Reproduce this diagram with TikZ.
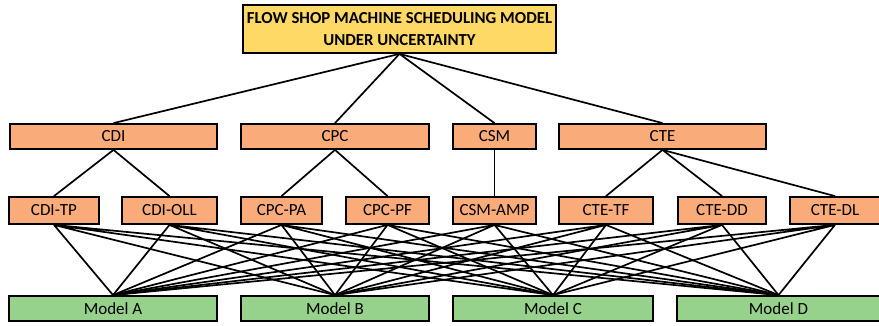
\documentclass[tikz,border=0pt]{standalone}
\usepackage{fontspec}
\setmainfont{Carlito}
\usepackage{tikz}
\usetikzlibrary{positioning}

\definecolor{titlefill}{RGB}{255,217,102}
\definecolor{critfill}{RGB}{249,171,122}
\definecolor{modelfill}{RGB}{150,210,140}

\begin{document}
\begin{tikzpicture}
  [x=1pt,y=-1pt,
   box/.style={draw=black,line width=1.8pt,inner sep=0pt,font=\fontsize{17}{20}\selectfont},
   head/.style={box,fill=titlefill,minimum width=313pt,minimum height=48pt,align=center,font=\bfseries\fontsize{16.8}{22.5}\selectfont},
   crit/.style={box,fill=critfill,minimum height=25pt},
   sub/.style={box,fill=critfill,minimum height=27pt},
   model/.style={box,fill=modelfill,minimum height=25pt},
   link/.style={black,line width=1.7pt}]
  \useasboundingbox (0,0) rectangle (879,326);

  \node[head] (t) at (399.5,29) {FLOW SHOP MACHINE SCHEDULING MODEL\\UNDER UNCERTAINTY};

  \node[crit,minimum width=207pt] (11) at (113.5,136.5) {CDI};
  \node[crit,minimum width=188pt] (12) at (335,136.5) {CPC};
  \node[crit,minimum width=83pt] (13) at (494.5,136.5) {CSM};
  \node[crit,minimum width=207pt] (14) at (662.5,136.5) {CTE};

  \node[sub,minimum width=90pt] (21) at (54,210.5) {CDI-TP};
  \node[sub,minimum width=95pt] (22) at (169.5,210.5) {CDI-OLL};
  \node[sub,minimum width=81pt] (23) at (281.5,210.5) {CPC-PA};
  \node[sub,minimum width=83pt] (24) at (387.5,210.5) {CPC-PF};
  \node[sub,minimum width=83pt] (25) at (494.5,210.5) {CSM-AMP};
  \node[sub,minimum width=94pt] (26) at (606,210.5) {CTE-TF};
  \node[sub,minimum width=88pt] (27) at (722,210.5) {CTE-DD};
  \node[sub,minimum width=90pt] (28) at (835,210.5) {CTE-DL};

  \node[model,minimum width=208pt] (31) at (113,308.5) {Model A};
  \node[model,minimum width=188pt] (32) at (335,308.5) {Model B};
  \node[model,minimum width=200pt] (33) at (553,308.5) {Model C};
  \node[model,minimum width=203pt] (34) at (778.5,308.5) {Model D};

  % title to criteria
  \draw[link] (t.south) -- (11.north);
  \draw[link] (t.south) -- (12.north);
  \draw[link] (t.south) -- (13.north);
  \draw[link] (t.south) -- (14.north);

  % criteria to sub-criteria
  \draw[link] (11.south) -- (21.north);
  \draw[link] (11.south) -- (22.north);
  \draw[link] (12.south) -- (23.north);
  \draw[link] (12.south) -- (24.north);
  \draw[link] (13.south) -- (25.north);
  \draw[link] (14.south) -- (26.north);
  \draw[link] (14.south) -- (27.north);
  \draw[link] (14.south) -- (28.north);

  % sub-criteria to models
  \draw[link] (21.south) -- (31.north) (21.south) -- (32.north) (21.south) -- (33.north) (21.south) -- (34.north);
  \draw[link] (22.south) -- (31.north) (22.south) -- (32.north) (22.south) -- (33.north) (22.south) -- (34.north);
  \draw[link] (23.south) -- (31.north) (23.south) -- (32.north) (23.south) -- (33.north) (23.south) -- (34.north);
  \draw[link] (24.south) -- (31.north) (24.south) -- (32.north) (24.south) -- (33.north) (24.south) -- (34.north);
  \draw[link] (25.south) -- (31.north) (25.south) -- (32.north) (25.south) -- (33.north) (25.south) -- (34.north);
  \draw[link] (26.south) -- (31.north) (26.south) -- (32.north) (26.south) -- (33.north) (26.south) -- (34.north);
  \draw[link] (27.south) -- (31.north) (27.south) -- (32.north) (27.south) -- (33.north) (27.south) -- (34.north);
  \draw[link] (28.south) -- (31.north) (28.south) -- (32.north) (28.south) -- (33.north) (28.south) -- (34.north);
\end{tikzpicture}
\end{document}
